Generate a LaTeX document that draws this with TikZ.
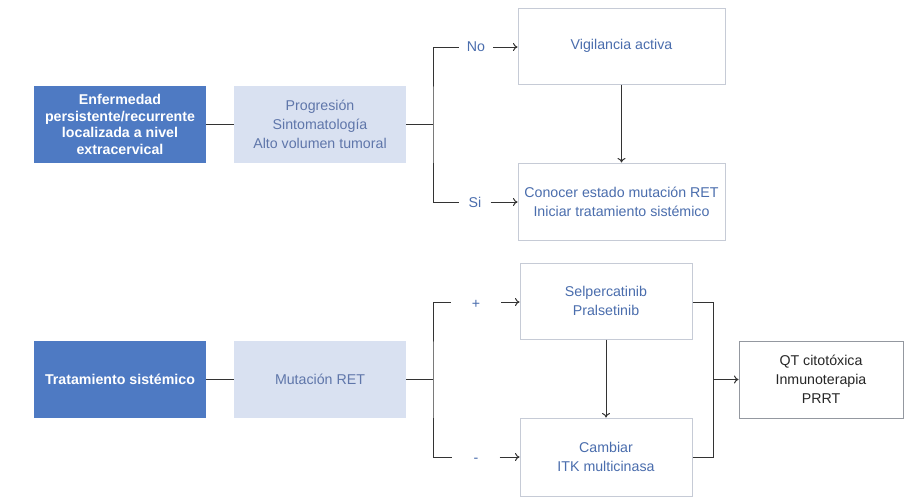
\documentclass[tikz,border=0pt]{standalone}
\usepackage{fontspec}
\setmainfont{Liberation Sans}
\usetikzlibrary{arrows.meta}
\definecolor{darkbox}{HTML}{4E7AC3}
\definecolor{lightbox}{HTML}{D9E1F1}
\definecolor{lighttext}{HTML}{5F76AA}
\definecolor{bluetext}{HTML}{4A6DAD}
\definecolor{boxline}{HTML}{C6CBD6}
\definecolor{conn}{HTML}{333333}
\tikzset{
  darknode/.style={fill=darkbox, draw=none, text=white, font=\bfseries\fontsize{14.2}{16.5}\selectfont, align=center, minimum width=172pt, minimum height=77pt, inner sep=0pt},
  lightnode/.style={fill=lightbox, draw=none, text=lighttext, font=\fontsize{14.2}{19}\selectfont, align=center, minimum width=172pt, minimum height=77pt, inner sep=0pt},
  whitenode/.style={fill=white, draw=boxline, line width=1pt, text=bluetext, font=\fontsize{14.2}{19}\selectfont, align=center, inner sep=0pt},
  blacknode/.style={fill=white, draw=boxline!75!black, line width=1pt, text=black!85, font=\fontsize{14.2}{19}\selectfont, align=center, inner sep=0pt},
  branchlabel/.style={text=bluetext, font=\fontsize{14.2}{17}\selectfont, inner ysep=0pt},
  link/.style={draw=conn, line width=1pt},
  arrowlink/.style={link, -{To[length=4.5pt,width=8pt]}},
}
\begin{document}
\begin{tikzpicture}[x=1pt,y=-1pt]
\useasboundingbox (0,0) rectangle (904,496);
% top row
\node[darknode] (b1) at (120,124.5) {Enfermedad\\persistente/recurrente\\localizada a nivel\\extracervical};
\node[lightnode] (b2) at (320,124.5) {Progresión\\Sintomatología\\Alto volumen tumoral};
\node[whitenode, minimum width=207pt, minimum height=76pt] (vig) at (621.5,46) {Vigilancia activa};
\node[whitenode, minimum width=207pt, minimum height=77pt] (con) at (621.5,201.5) {Conocer estado mutación RET\\Iniciar tratamiento sistémico};
\coordinate (j1) at (433,124.5);
\node[branchlabel, inner xsep=8pt] (no) at (476,47) {No};
\node[branchlabel, inner xsep=9pt] (si) at (475,202) {Si};
\draw[link] (b1.east) -- (b2.west);
\draw[link] (b2.east) -- (j1);
\draw[link] (no.west) -| (j1) |- (si.west);
\draw[arrowlink] (no.east) -- (no.east -| vig.west);
\draw[arrowlink] (si.east) -- (si.east -| con.west);
\draw[arrowlink] (vig.south) -- (con.north);
% bottom row
\node[darknode] (b3) at (120,379.5) {Tratamiento sistémico};
\node[lightnode] (b4) at (320,379.5) {Mutación RET};
\node[whitenode, minimum width=172pt, minimum height=76pt] (sel) at (606,301) {Selpercatinib\\Pralsetinib};
\node[whitenode, minimum width=172pt, minimum height=78pt] (cam) at (606,457) {Cambiar\\ITK multicinasa};
\node[blacknode, minimum width=164pt, minimum height=77pt] (qt) at (821,379.5) {QT citotóxica\\Inmunoterapia\\PRRT};
\coordinate (j2) at (433,379.5);
\coordinate (j3) at (713,379.5);
\node[branchlabel, inner xsep=21pt] (plus) at (476,304) {+};
\node[branchlabel, inner xsep=21pt] (minus) at (476,460) {-};
\draw[link] (b3.east) -- (b4.west);
\draw[link] (b4.east) -- (j2);
\draw[link] (plus.west |- 0,302) -| (j2) |- (minus.west |- 0,457);
\draw[arrowlink] (plus.east |- 0,302) -- (sel.west |- 0,302);
\draw[arrowlink] (minus.east |- 0,457) -- (cam.west |- 0,457);
\draw[arrowlink] (sel.south) -- (cam.north);
\draw[link] (sel.east |- 0,302) -| (j3) |- (cam.east |- 0,457);
\draw[arrowlink] (j3) -- (qt.west);
\end{tikzpicture}
\end{document}
